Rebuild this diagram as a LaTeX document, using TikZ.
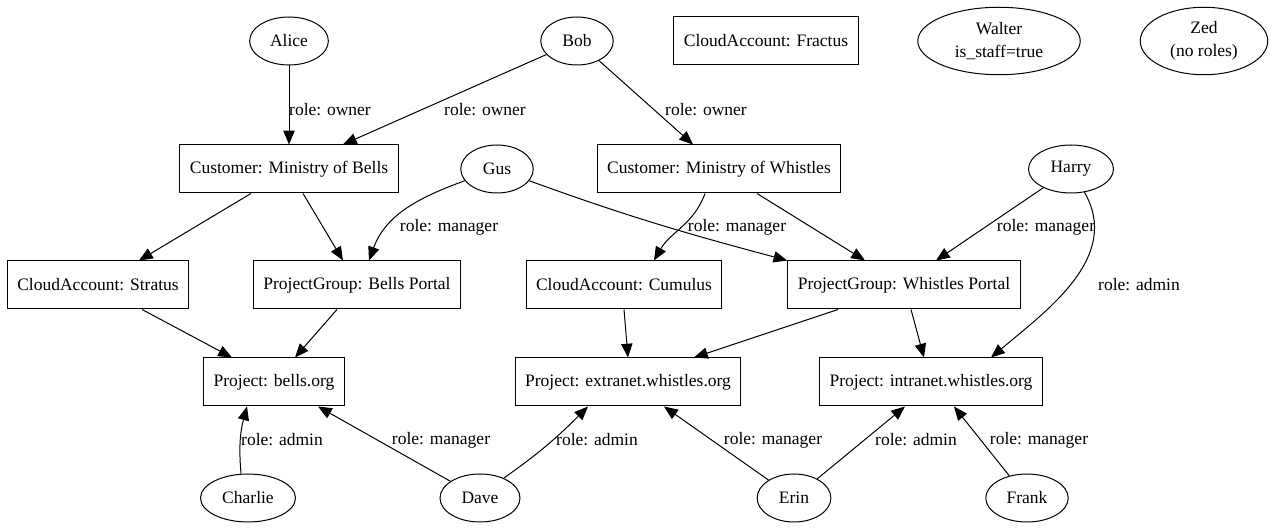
\documentclass[tikz,border=0pt]{standalone}
\usepackage{fontspec}
\setmainfont{Liberation Serif}
\usetikzlibrary{positioning,shapes.geometric,arrows.meta,calc}

\begin{document}
\begin{tikzpicture}[
			x=0.8pt, y=-0.8pt,
			font=\fontsize{14}{16}\selectfont,
			entity/.style={rectangle, draw=black, line width=0.8pt, minimum height=38.4pt, inner xsep=8pt},
			person/.style={ellipse, draw=black, line width=0.8pt, minimum height=38.4pt, minimum width=#1, inner sep=1pt},
			tallperson/.style={ellipse, draw=black, line width=0.8pt, minimum height=54pt, minimum width=#1, inner sep=1pt, align=center},
			rolelabel/.style={rectangle, inner sep=0pt}
		]
		\useasboundingbox (0,0) rectangle (1274,528);
		% people and things, row by row
		\node[person=63pt] (alice) at (289,41) {Alice};
		\node[person=58pt] (bob) at (577,41) {Bob};
		\node[entity] (fractus) at (766,41) {CloudAccount: Fractus};
		\node[tallperson=130pt] (walter) at (999,41) {Walter\\[2pt]is\_staff=true};
		\node[tallperson=102pt] (zed) at (1204,41) {Zed\\[2pt](no roles)};
		\node[entity] (custbells) at (289,169) {Customer: Ministry of Bells};
		\node[person=58pt] (gus) at (497,169) {Gus};
		\node[entity] (custwhistles) at (719,169) {Customer: Ministry of Whistles};
		\node[person=68pt] (harry) at (1071,169) {Harry};
		\node[entity] (stratus) at (98,285) {CloudAccount: Stratus};
		\node[entity] (bellsportal) at (357,285) {ProjectGroup: Bells Portal};
		\node[entity] (cumulus) at (624,285) {CloudAccount: Cumulus};
		\node[entity] (whistlesportal) at (904,285) {ProjectGroup: Whistles Portal};
		\node[entity] (bellsorg) at (274,382) {Project: bells.org};
		\node[entity] (extranet) at (628,382) {Project: extranet.whistles.org};
		\node[entity] (intranet) at (931,382) {Project: intranet.whistles.org};
		\node[person=76pt] (charlie) at (248,498) {Charlie};
		\node[person=64pt] (dave) at (480,498) {Dave};
		\node[person=59pt] (erin) at (794,498) {Erin};
		\node[person=66pt] (frank) at (1027,498) {Frank};
		% role labels
		\node[rolelabel] (ownalice) at (330,110) {role: owner};
		\node[rolelabel] (ownbobl) at (485,110) {role: owner};
		\node[rolelabel] (ownbobr) at (706,110) {role: owner};
		\node[rolelabel] (mangusl) at (449,227) {role: manager};
		\node[rolelabel] (mangusr) at (737,227) {role: manager};
		\node[rolelabel] (manharry) at (1046,227) {role: manager};
		\node[rolelabel] (admharry) at (1139,285) {role: admin};
		\node[rolelabel] (admcharlie) at (282,440) {role: admin};
		\node[rolelabel] (mandave) at (441,440) {role: manager};
		\node[rolelabel] (admdave) at (597,440) {role: admin};
		\node[rolelabel] (manerin) at (773,440) {role: manager};
		\node[rolelabel] (admerin) at (916,440) {role: admin};
		\node[rolelabel] (manfrank) at (1039,440) {role: manager};
		\begin{scope}[line width=0.8pt, -{Triangle[length=11pt,width=9pt]}]
		\draw (alice) -- (custbells);
		\draw (bob) -- ($(custbells.north)+(54,0)$);
		\draw (bob) -- ($(custwhistles.north)+(-26,0)$);
		\draw ($(custbells.south)+(-38,0)$) -- ($(stratus.north)+(41,0)$);
		\draw ($(custbells.south)+(14,0)$) -- ($(bellsportal.north)+(-14,0)$);
		\draw (gus.200) to[out=200, in=70] ($(bellsportal.north)+(12,0)$);
		\draw (gus.-20) to[out=-20, in=165] (whistlesportal.north west);
		\draw ($(custwhistles.south)+(-14,0)$) to[out=-110, in=60] ($(cumulus.north)+(30,0)$);
		\draw ($(custwhistles.south)+(38,0)$) -- ($(whistlesportal.north)+(-39,0)$);
		\draw (harry) -- ($(whistlesportal.north)+(32,0)$);
		\draw (harry.-60) to[out=-60, in=40] ($(intranet.north)+(60,0)$);
		\draw ($(stratus.south)+(44,0)$) -- ($(bellsorg.north)+(-42,0)$);
		\draw ($(bellsportal.south)+(-20,0)$) -- ($(bellsorg.north)+(21,0)$);
		\draw (cumulus.south) -- (extranet.north);
		\draw ($(whistlesportal.south)+(-66,0)$) -- ($(extranet.north)+(66,0)$);
		\draw ($(whistlesportal.south)+(7,0)$) -- ($(intranet.north)+(-7,0)$);
		\draw ($(charlie.north)+(-7,0)$) to[out=95, in=-105] ($(bellsorg.south)+(-27,0)$);
		\draw (dave) -- ($(bellsorg.south)+(44,0)$);
		\draw (dave.40) to[out=35, in=-135] ($(extranet.south)+(-40,0)$);
		\draw (erin) -- ($(extranet.south)+(36,0)$);
		\draw (erin) -- ($(intranet.south)+(-26,0)$);
		\draw (frank) -- ($(intranet.south)+(23,0)$);
		\end{scope}
\end{tikzpicture}
\end{document}
